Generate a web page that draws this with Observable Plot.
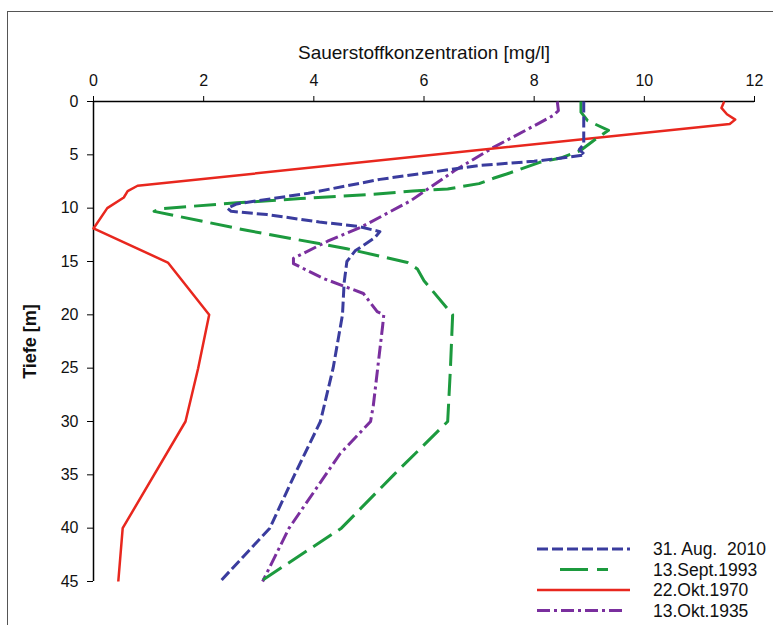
<!DOCTYPE html>
<html>
<head>
<meta charset="utf-8">
<script src="https://cdn.jsdelivr.net/npm/d3@7"></script>
<script src="https://cdn.jsdelivr.net/npm/@observablehq/plot@0.6"></script>
<style>
  html, body { margin: 0; padding: 0; background: #fff; }
  #wrap { position: relative; width: 773px; height: 625px; overflow: hidden; font-family: "Liberation Sans", Arial, sans-serif; }
  #frame { position: absolute; left: 7px; top: 11px; width: 800px; height: 700px; border-left: 1px solid #555; border-top: 1px solid #555; }
  #chart { position: absolute; left: 0; top: 0; }
  #legend { position: absolute; left: 0; top: 0; }
  #legend text { white-space: pre; }
</style>
</head>
<body>
<div id="wrap"><div id="frame"></div><div id="chart"></div><svg id="legend" width="773" height="625"></svg></div>
<script>
// Series: depth [m] and oxygen concentration [mg/l]
const series = ["31. Aug.  2010", "13.Sept.1993", "22.Okt.1970", "13.Okt.1935"];

const blue2010_depth = [0, 4.0, 4.5, 5.0, 5.3, 5.6, 6.0, 7.3, 8.6, 9.6, 10.0, 10.3, 10.6, 11.3, 11.7, 12.2, 12.8, 14.0, 15.0, 17.0, 20, 25, 30, 35, 40, 45];
const blue2010_o2    = [8.9, 8.9, 8.82, 8.92, 8.5, 8.0, 7.0, 5.2, 3.9, 2.6, 2.43, 2.5, 3.15, 4.1, 4.8, 5.2, 5.1, 4.75, 4.6, 4.55, 4.52, 4.35, 4.12, 3.65, 3.2, 2.3];

const green1993_depth = [0, 1.0, 1.8, 2.7, 3.7, 4.6, 5.3, 5.7, 6.8, 7.2, 7.7, 8.2, 8.4, 8.65, 9.1, 9.5, 10.05, 10.3, 12.1, 13.8, 14.5, 15.1, 15.7, 16.8, 20, 25, 30, 35, 40, 45];
const green1993_o2    = [8.85, 8.85, 8.97, 9.35, 9.07, 8.84, 8.48, 8.1, 7.5, 7.26, 7.0, 6.43, 5.8, 5.2, 3.76, 2.6, 1.22, 1.1, 2.8, 4.6, 5.2, 5.7, 5.88, 6.0, 6.52, 6.48, 6.43, 5.45, 4.5, 3.03];

const red1970_depth = [0, 0.6, 1.2, 1.7, 2.1, 7.9, 8.4, 9.0, 10.0, 11.9, 15.1, 20, 25, 30, 40, 45];
const red1970_o2    = [11.45, 11.4, 11.5, 11.65, 11.55, 0.8, 0.62, 0.55, 0.25, 0, 1.35, 2.1, 1.9, 1.67, 0.53, 0.45];

const purple1935_depth = [0, 0.85, 1.3, 2.0, 4.3, 6.5, 9.3, 11.8, 13.1, 14.7, 15.2, 16.6, 18.0, 19.7, 20, 21, 28.5, 30, 33, 40, 45];
const purple1935_o2    = [8.42, 8.44, 8.35, 8.1, 7.26, 6.55, 5.76, 4.85, 4.25, 3.63, 3.63, 4.18, 4.9, 5.15, 5.27, 5.25, 5.08, 5.03, 4.48, 3.55, 3.07];

const xTicks = [0, 2, 4, 6, 8, 10, 12];
const yTicks = [0, 5, 10, 15, 20, 25, 30, 35, 40, 45];
const xTitle = "Sauerstoffkonzentration [mg/l]";
const yTitle = "Tiefe [m]";

const styles = [
  {color: "#3a3c9e", width: 3, dash: "11,4"},
  {color: "#1c9a3e", width: 3, dash: "22,8"},
  {color: "#e8271e", width: 2.5, dash: null},
  {color: "#7a2f9e", width: 3, dash: "13,4,3,4"}
];

function rows(name, depth, o2) { return depth.map((d, i) => ({series: name, depth: d, o2: o2[i]})); }
const data = [
  rows(series[0], blue2010_depth, blue2010_o2),
  rows(series[1], green1993_depth, green1993_o2),
  rows(series[2], red1970_depth, red1970_o2),
  rows(series[3], purple1935_depth, purple1935_o2)
];

const font = "Liberation Sans, Arial, sans-serif";

const lineMarks = [3, 2, 1, 0].map(i => Plot.line(data[i], {
  x: "o2", y: "depth", stroke: styles[i].color, strokeWidth: styles[i].width,
  strokeDasharray: styles[i].dash || undefined, strokeLinejoin: "round", strokeLinecap: "butt"
}));

const chart = Plot.plot({
  width: 773, height: 625,
  marginLeft: 93, marginRight: 19, marginTop: 101, marginBottom: 44,
  style: {fontFamily: font, fontSize: "16px", color: "#111", background: "transparent", overflow: "visible"},
  x: {domain: [0, 12]},
  y: {domain: [0, 45], reverse: true},
  marks: [
    Plot.ruleY([0], {stroke: "#000", strokeWidth: 1.5}),
    Plot.ruleX([0], {stroke: "#000", strokeWidth: 1.5}),
    ...lineMarks,
    Plot.axisX({anchor: "top", ticks: xTicks, tickSize: 6, tickPadding: 10, label: null, fontSize: 16, stroke: "#000"}),
    Plot.axisY({anchor: "left", ticks: yTicks, tickSize: 6, tickPadding: 9, label: null, fontSize: 16, stroke: "#000"}),
    Plot.text([xTitle], {frameAnchor: "top", dy: -56, fontSize: 19, fill: "#111"}),
    Plot.text([yTitle], {frameAnchor: "left", dx: -63, rotate: -90, textAnchor: "middle", fontSize: 18, fontWeight: "bold", fill: "#111"})
  ]
});
document.getElementById("chart").appendChild(chart);

// Legend
const leg = d3.select("#legend");
const legendTop = 549, legendStep = 20.5;
series.forEach((name, i) => {
  const y = legendTop + i * legendStep;
  const s = styles[i];
  const x0 = i === 1 ? 560 : 537, x1 = i === 1 ? 608 : (i === 3 ? 625 : 630);
  leg.append("line").attr("x1", x0).attr("x2", x1).attr("y1", y).attr("y2", y)
    .attr("stroke", s.color).attr("stroke-width", s.width)
    .attr("stroke-dasharray", i === 1 ? "28,9" : (s.dash || null));
  leg.append("text").attr("x", 653).attr("y", y).attr("dy", "0.35em")
    .attr("font-family", font).attr("font-size", 17.5).attr("fill", "#111").text(name);
});
</script>
</body>
</html>
